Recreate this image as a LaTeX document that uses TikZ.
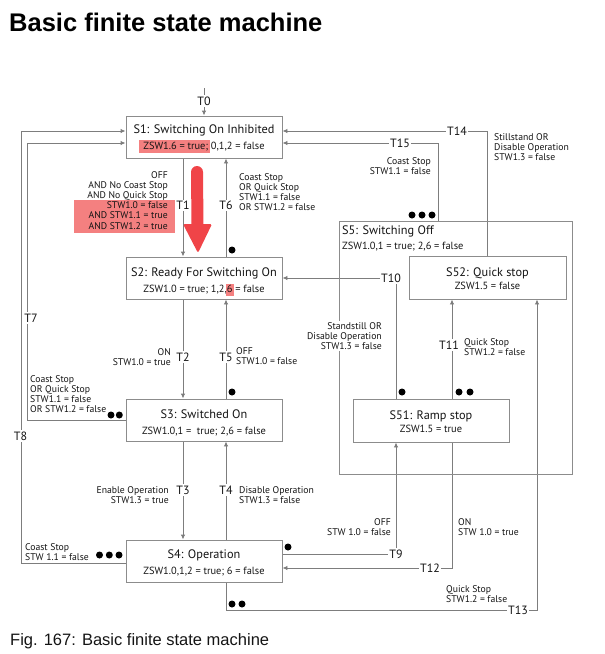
\documentclass[tikz,border=0pt]{standalone}
\usepackage{fontspec}
\setmainfont{Liberation Sans}
\newfontfamily\dfont{PT Sans}
\usetikzlibrary{arrows.meta,calc,backgrounds}
\definecolor{ln}{RGB}{125,125,125}
\definecolor{bx}{RGB}{140,140,140}
\definecolor{hlred}{RGB}{244,128,128}
\definecolor{bigred}{RGB}{240,68,72}
\definecolor{tx}{RGB}{20,20,20}
\newcommand\hlbox[1]{{\setlength{\fboxsep}{1.5pt}\kern-4pt\colorbox{hlred}{\kern2.5pt\vphantom{Zg}#1}\kern-1.5pt}}
\newcommand\hlboxs[1]{{\setlength{\fboxsep}{1pt}\kern-1pt\colorbox{hlred}{\vphantom{Zg}#1}\kern-1pt}}
\tikzset{
 box/.style={draw=bx, line width=0.9pt, minimum width=156pt, minimum height=42pt, inner sep=0},
 ttl/.style={font=\dfont\fontsize{12.3}{14}\selectfont, text=tx, inner sep=0, anchor=base},
 subt/.style={font=\dfont\fontsize{10.4}{12}\selectfont, text=tx, inner sep=0, anchor=base},
 tlab/.style={font=\dfont\fontsize{12}{14}\selectfont, text=tx, fill=white, inner sep=1.5pt},
 cond/.style={font=\dfont\fontsize{9.7}{10.1}\selectfont, text=tx, inner sep=0},
 condl/.style={cond, anchor=west, align=left},
 condr/.style={cond, anchor=east, align=right},
 arr/.style={draw=ln, line width=0.9pt, -{Latex[length=5pt,width=4.5pt]}},
 conn/.style={draw=ln, line width=0.9pt},
 dot/.style={circle, fill=black, inner sep=0, minimum size=7pt},
}
\begin{document}
\begin{tikzpicture}[x=1pt,y=-1pt]
\useasboundingbox (0,0) rectangle (605,654);
\node[anchor=base west, inner sep=0, font=\bfseries\fontsize{25.5}{30}\selectfont, text=black] (title) at (9,31.7) {Basic finite state machine};
\node[anchor=base west, inner sep=0, font=\fontsize{16.5}{19}\selectfont, text=tx] (caption) at (10,645) {Fig. 167: Basic finite state machine};

% state boxes
\node[box] (S1) at (204,137) {};
\node[box] (S2) at (204,278) {};
\node[box] (S3) at (204,420) {};
\node[box] (S4) at (204,561) {};
\node[draw=bx, line width=0.9pt, minimum width=233pt, minimum height=253pt, inner sep=0] (S5) at (455.5,347.5) {};
\node[box, minimum width=157pt, minimum height=43pt] (S52) at (487.5,277.5) {};
\node[box, minimum height=43pt] (S51) at (431,420.5) {};

% box texts
\node[ttl] (S1t) at (204,133.3) {S1: Switching On Inhibited};
\node[subt] (S1s) at (204,149) {\hlbox{ZSW1.6 = true;} 0,1,2 = false};
\node[ttl] (S2t) at (204,276) {S2: Ready For Switching On};
\node[subt] (S2s) at (204,292.3) {ZSW1.0 = true; 1,2,\hlboxs{6} = false};
\node[ttl] (S3t) at (204,418.3) {S3: Switched On};
\node[subt] (S3s) at (204,434) {ZSW1.0,1 =~ true; 2,6 = false};
\node[ttl] (S4t) at (204,558.3) {S4: Operation};
\node[subt] (S4s) at (204,574) {ZSW1.0,1,2 = true; 6 = false};
\node[ttl, anchor=base west] (S5t) at (342,234.3) {S5: Switching Off};
\node[subt, anchor=base west] (S5s) at (342,249.3) {ZSW1.0,1 = true; 2,6 = false};
\node[ttl] (S52t) at (487.5,276) {S52: Quick stop};
\node[subt] (S52s) at (487.5,289.3) {ZSW1.5 = false};
\node[ttl] (S51t) at (431,419) {S51: Ramp stop};
\node[subt] (S51s) at (431,432.3) {ZSW1.5 = true};

% transition labels
\node[tlab] (T0) at (204,101) {T0};
\node[tlab] (T1) at (183,205.5) {T1};
\node[tlab] (T6) at (226,205.5) {T6};
\node[tlab] (T2) at (183,357) {T2};
\node[tlab] (T5) at (226,357) {T5};
\node[tlab] (T3) at (183,490) {T3};
\node[tlab] (T4) at (226,490) {T4};
\node[tlab] (T7) at (31,318) {T7};
\node[tlab] (T8) at (20.5,436) {T8};
\node[tlab] (T9) at (396,554) {T9};
\node[tlab] (T12) at (430,568) {T12};
\node[tlab] (T13) at (518,610.5) {T13};
\node[tlab] (T10) at (391,278) {T10};
\node[tlab] (T11) at (449,345) {T11};
\node[tlab] (T14) at (457,131) {T14};
\node[tlab] (T15) at (400,143) {T15};

% turning points
\coordinate (c0) at (204,88);
\coordinate (c7) at (27,143);
\coordinate (c7b) at (27,420);
\coordinate (c8) at (21,131);
\coordinate (c8b) at (21,563);
\coordinate (c12) at (452,568);
\coordinate (c13) at (537,610);
\coordinate (c13b) at (226,610);
\coordinate (c10) at (396,278);
\coordinate (c11) at (452,345);
\coordinate (c14) at (487,131);
\coordinate (c15) at (438,143);

% conditions
\node[condr] (C1) at (168,200.4) {OFF\\AND No Coast Stop\\AND No Quick Stop\\STW1.0 = false\\AND STW1.1 = true\\AND STW1.2 = true};
\node[condl] (C6) at (239,192) {Coast Stop\\OR Quick Stop\\STW1.1 = false\\OR STW1.2 = false};
\node[condr] (C2) at (171,357) {ON\\STW1.0 = true};
\node[condl] (C5) at (236,356) {OFF\\STW1.0 = false};
\node[condl] (C7) at (30,394) {Coast Stop\\OR Quick Stop\\STW1.1 = false\\OR STW1.2 = false};
\node[condr] (C3) at (169,495) {Enable Operation\\STW1.3 = true};
\node[condl] (C4) at (239,495) {Disable Operation\\STW1.3 = false};
\node[condl] (C8) at (25,552) {Coast Stop\\STW 1.1 = false};
\node[condr] (C9) at (391,527.5) {OFF\\STW 1.0 = false};
\node[condl] (C12) at (458,527.5) {ON\\STW 1.0 = true};
\node[condl] (C13) at (446,594) {Quick Stop\\STW1.2 = false};
\node[condl] (C11) at (464,347.5) {Quick Stop\\STW1.2 = false};
\node[condr, fill=white, inner sep=1pt] (C10) at (383,336) {Standstill OR\\Disable Operation\\STW1.3 = false};
\node[condl] (C14) at (494,147.5) {Stillstand OR\\Disable Operation\\STW1.3 = false};
\node[condr] (C15) at (431,166.5) {Coast Stop\\STW1.1 = false};

% dots
\node[dot] (d6) at (232,250) {};
\node[dot] (d5) at (232,392) {};
\node[dot] (d7a) at (111,415) {};
\node[dot] (d7b) at (119.3,415) {};
\node[dot] (d8a) at (99.5,555) {};
\node[dot] (d8b) at (109.3,555) {};
\node[dot] (d8c) at (119,555) {};
\node[dot] (d9) at (288,547) {};
\node[dot] (d13a) at (232,604) {};
\node[dot] (d13b) at (242,604) {};
\node[dot] (d10) at (402,392) {};
\node[dot] (d11a) at (459,392) {};
\node[dot] (d11b) at (470,392) {};
\node[dot] (d15a) at (412,215) {};
\node[dot] (d15b) at (422,215) {};
\node[dot] (d15c) at (432,215) {};

\begin{pgfonlayer}{background}
\node[fill=hlred, minimum width=101pt, minimum height=33pt, inner sep=0] (hl1) at (124.5,216.5) {};
\draw[arr] (c0) -- (S1.north);
\draw[arr] (S1.south -| T1) -- (S2.north -| T1);
\draw[arr] (S2.north -| T6) -- (S1.south -| T6);
\draw[arr] (S2.south -| T2) -- (S3.north -| T2);
\draw[arr] (S3.north -| T5) -- (S2.south -| T5);
\draw[arr] (S3.south -| T3) -- (S4.north -| T3);
\draw[arr] (S4.north -| T4) -- (S3.south -| T4);
\draw[arr] (S3.west |- c7b) -- (c7b) -- (c7) -- (S1.west |- c7);
\draw[arr] (S4.west |- c8b) -- (c8b) -- (c8) -- (S1.west |- c8);
\draw[arr] (S4.east |- T9) -- (T9.center) -- (S51.south -| T9);
\draw[arr] (S51.south -| c12) -- (c12) -- (S4.east |- c12);
\draw[arr] (S4.south -| c13b) -- (c13b) -- (c13) -- (S52.south -| c13);
\draw[arr] (S51.north -| c10) -- (c10) -- (S2.east |- c10);
\draw[arr] (S51.north -| c11) -- (S52.south -| c11);
\draw[arr] (S52.north -| c14) -- (c14) -- (S1.east |- c14);
\draw[arr] (S5.north -| c15) -- (c15) -- (S1.east |- c15);
\end{pgfonlayer}

% big red arrow
\draw[bigred, line width=12pt, line cap=round] (197,172) -- (197.5,226);
\fill[bigred, rounded corners=1.5pt] (183,224) -- (212,224) -- (198,253) -- cycle;
\end{tikzpicture}
\end{document}
